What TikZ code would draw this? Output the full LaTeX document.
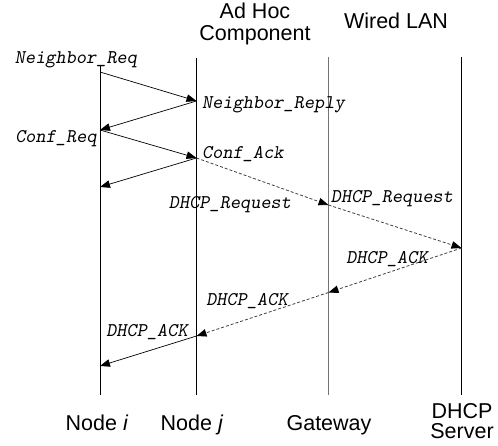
\documentclass[tikz,border=0pt]{standalone}
\usepackage{fontspec}
\setmainfont{Liberation Sans}
\usetikzlibrary{arrows.meta}
\begin{document}
\begin{tikzpicture}[x=1pt,y=-1pt,
  life/.style={line width=0.8pt,black},
  glife/.style={line width=0.8pt,black!55},
  msg/.style={line width=0.7pt,-{Triangle[length=10pt,width=7.5pt]}},
  dmsg/.style={line width=0.8pt,black!75,dash pattern=on 3pt off 2pt,-{Triangle[length=10pt,width=7.5pt,color=black]}},
  hdr/.style={font=\fontsize{21.5}{24}\selectfont,inner sep=0pt,anchor=base},
  lbl/.style={font=\fontsize{19.4}{22}\selectfont\ttfamily\slshape,inner sep=0pt,anchor=base}]
\useasboundingbox[fill=white] (0,0) rectangle (498,445);
% headers
\node[hdr] (adhoc1) at (255,18) {Ad Hoc};
\node[hdr] (adhoc2) at (255,40) {Component};
\node[hdr] (wired) at (396,28) {Wired LAN};
% bottom labels
\node[hdr] (ni) at (97,430) {Node \textit{i}};
\node[hdr] (nj) at (192,430) {Node \textit{j}};
\node[hdr] (gw) at (329,430) {Gateway};
\node[hdr] (srv1) at (462,418) {DHCP};
\node[hdr] (srv2) at (462,438) {Server};
% lifelines
\coordinate (itop) at (100,65);  \coordinate (ibot) at (100,395);
\coordinate (jtop) at (196.5,58); \coordinate (jbot) at (196.5,395);
\coordinate (gtop) at (328.5,57); \coordinate (gbot) at (328.5,395);
\coordinate (stop) at (461.5,57); \coordinate (sbot) at (461.5,395);
\draw[life] (itop) -- (ibot);
\draw[life] (jtop) -- (jbot);
\draw[glife] (gtop) -- (gbot);
\draw[life] (stop) -- (sbot);
% message points
\coordinate (i1) at (100,72);
\coordinate (j1) at (196.5,101);
\coordinate (i2) at (100,130);
\coordinate (j2) at (196.5,158);
\coordinate (i3) at (100,187);
\coordinate (g1) at (328.5,205);
\coordinate (s1) at (461.5,248);
\coordinate (g2) at (328.5,292.5);
\coordinate (j3) at (196.5,336);
\coordinate (i4) at (100,366);
% messages
\draw[msg] (i1) -- (j1);
\draw[msg] (j1) -- (i2);
\draw[msg] (i2) -- (j2);
\draw[msg] (j2) -- (i3);
\draw[dmsg] (j2) -- (g1);
\draw[dmsg] (g1) -- (s1);
\draw[dmsg] (s1) -- (g2);
\draw[dmsg] (g2) -- (j3);
\draw[msg] (j3) -- (i4);
% labels
\node[lbl] (l1) at (76,63) {Neighbor\_Req};
\node[lbl,anchor=base west] (l2) at (202,108) {Neighbor\_Reply};
\node[lbl] (l3) at (56,142) {Conf\_Req};
\node[lbl,anchor=base west] (l4) at (202,158) {Conf\_Ack};
\node[lbl] (l5) at (230,208) {DHCP\_Request};
\node[lbl] (l6) at (392,202) {DHCP\_Request};
\node[lbl] (l7) at (387,263) {DHCP\_ACK};
\node[lbl] (l8) at (247,305) {DHCP\_ACK};
\node[lbl] (l9) at (147,336) {DHCP\_ACK};
\end{tikzpicture}
\end{document}
